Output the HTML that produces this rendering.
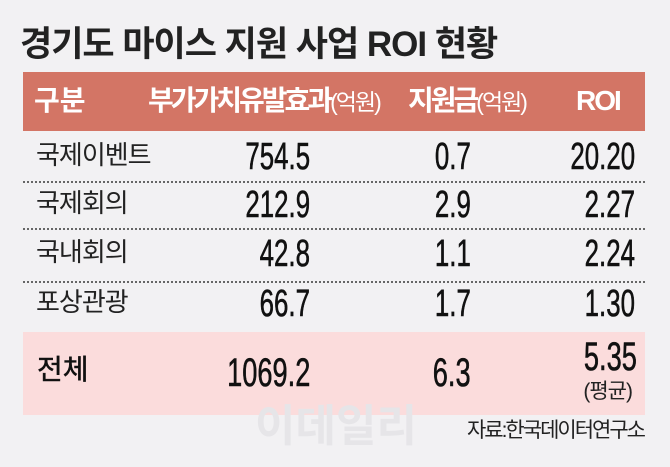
<!DOCTYPE html>
<html><head><meta charset="utf-8"><style>
body{margin:0;width:670px;height:467px;background:#f2f1f3;position:relative;overflow:hidden;font-family:"Liberation Sans","Noto Sans CJK KR",sans-serif;}
.a{position:absolute;white-space:nowrap;line-height:1;}
.r{text-align:right;}
.hd{position:absolute;left:23px;top:72px;width:622px;height:59px;background:#d37565;}
.tot{position:absolute;left:23px;top:332px;width:622px;height:83px;background:#fbdcdc;}
.dash{position:absolute;left:23px;width:622px;border-top:2px dotted #666;height:0;}
.lab{font-size:26px;color:#222;letter-spacing:-1px;}
.num{font-size:38px;color:#111;transform:scaleX(.68);transform-origin:right center;-webkit-text-stroke:0.6px #111;}
.w{color:#fff;font-weight:bold;}
</style></head><body>
<div class="a" style="left:20px;top:27px;font-size:35px;font-weight:bold;color:#222;letter-spacing:-1px;">경기도 마이스 지원 사업 ROI 현황</div>
<div class="hd"></div>
<div class="a w" style="left:34px;top:87px;font-size:28px;">구분</div>
<div class="a w" style="left:148px;top:87px;font-size:28px;letter-spacing:-3px;">부가가치유발효과<span style="font-weight:normal;font-size:23px;letter-spacing:-2px">(억원)</span></div>
<div class="a w" style="left:408px;top:87px;font-size:28px;letter-spacing:-3px;">지원금<span style="font-weight:normal;font-size:23px;letter-spacing:-2px">(억원)</span></div>
<div class="a w" style="left:576px;top:87px;font-size:28px;letter-spacing:-2px;">ROI</div>

<div class="a lab" style="left:36px;top:142px;">국제이벤트</div>
<div class="a lab" style="left:36px;top:190px;">국제회의</div>
<div class="a lab" style="left:36px;top:239px;">국내회의</div>
<div class="a lab" style="left:36px;top:289px;">포상관광</div>
<div class="dash" style="top:181px"></div>
<div class="dash" style="top:228px"></div>
<div class="dash" style="top:281px"></div>

<div class="a num r" style="right:360px;top:138px;">754.5</div>
<div class="a num r" style="right:360px;top:186px;">212.9</div>
<div class="a num r" style="right:360px;top:235px;">42.8</div>
<div class="a num r" style="right:360px;top:285px;">66.7</div>
<div class="a num r" style="right:199px;top:138px;">0.7</div>
<div class="a num r" style="right:199px;top:186px;">2.9</div>
<div class="a num r" style="right:199px;top:235px;">1.1</div>
<div class="a num r" style="right:199px;top:285px;">1.7</div>
<div class="a num r" style="right:35px;top:138px;">20.20</div>
<div class="a num r" style="right:35px;top:186px;">2.27</div>
<div class="a num r" style="right:35px;top:235px;">2.24</div>
<div class="a num r" style="right:35px;top:285px;">1.30</div>

<div class="tot"></div>
<div class="a" style="left:37px;top:356px;font-size:28px;color:#111;-webkit-text-stroke:0.5px #111;">전체</div>
<div class="a num r" style="right:360px;top:353px;font-size:40px;">1069.2</div>
<div class="a num r" style="right:199px;top:353px;font-size:40px;">6.3</div>
<div class="a num r" style="right:33px;top:337px;font-size:40px;">5.35</div>
<div class="a r" style="right:38px;top:381px;font-size:21px;color:#222;letter-spacing:-1px;">(평균)</div>
<div class="a" style="left:255px;top:405px;font-size:44px;font-weight:bold;color:#e6e5e8;">이데일리</div>
<div class="a" style="right:26px;top:420px;font-size:21px;color:#222;letter-spacing:-2px;">자료:한국데이터연구소</div>
</body></html>
